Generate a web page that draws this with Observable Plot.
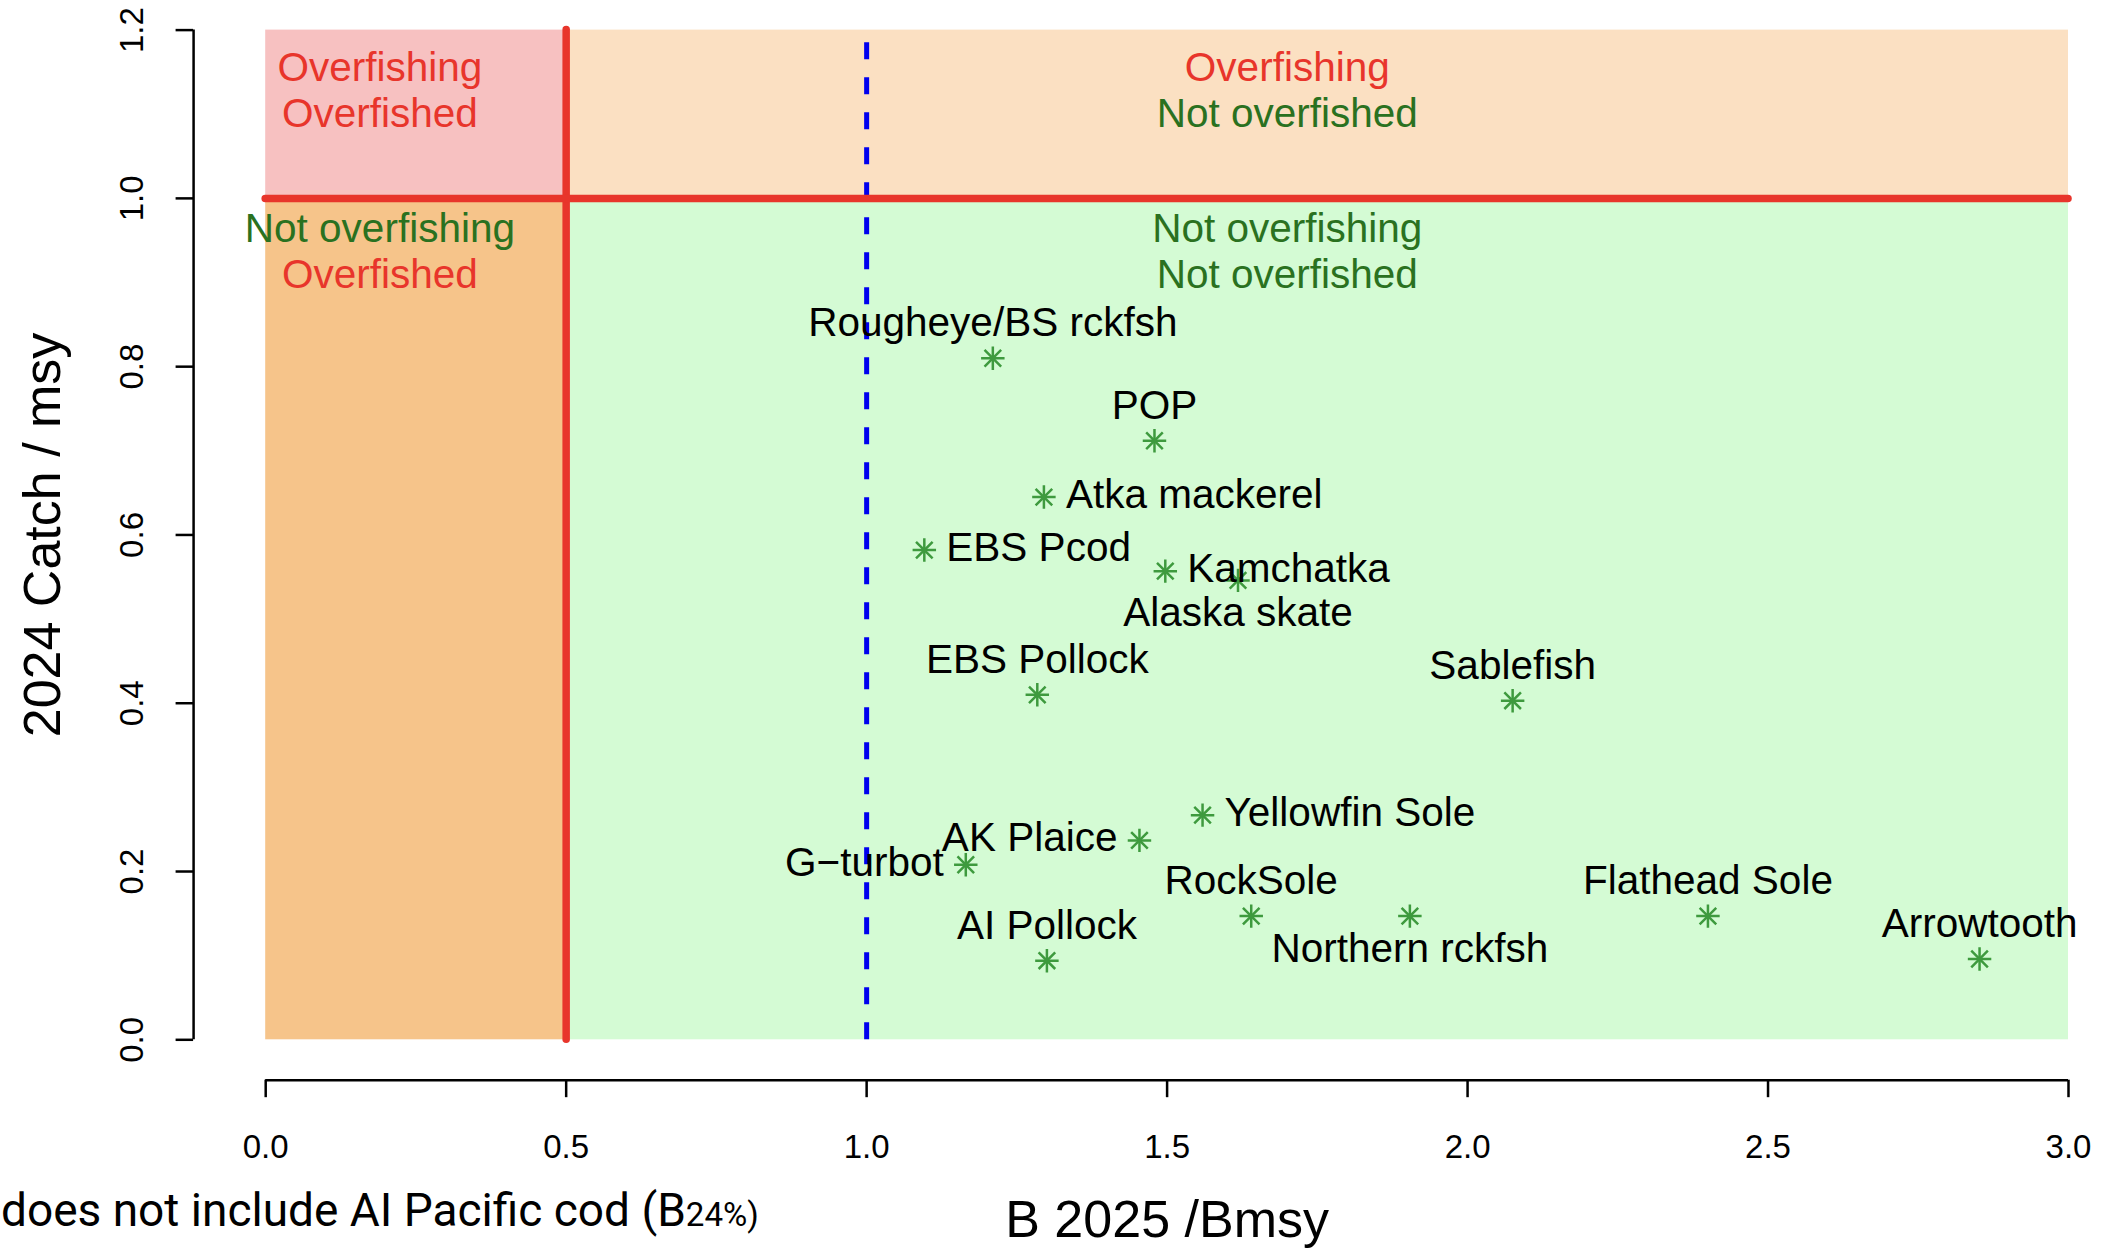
<!DOCTYPE html>
<html>
<head>
<meta charset="utf-8">
<script src="https://cdn.jsdelivr.net/npm/d3@7"></script>
<script src="https://cdn.jsdelivr.net/npm/@observablehq/plot@0.6"></script>
<style>
  html, body { margin: 0; padding: 0; background: #fff; }
  #wrap { position: relative; width: 2111px; height: 1251px; overflow: hidden; }
  #note { position: absolute; left: 1px; top: 1187px; font-family: Roboto, "Liberation Sans", Arial, sans-serif;
          font-size: 46px; line-height: 46px; white-space: nowrap; color: #000; }
  #note span { font-size: 0.72em; }
</style>
</head>
<body>
<div id="wrap">
  <div id="chart"></div>
  <div id="note">does not include AI Pacific cod (B<span>24%)</span></div>
</div>
<script>
// ---------------- data ----------------
const species = ["Rougheye/BS rckfsh", "POP", "Atka mackerel", "EBS Pcod", "Kamchatka", "Alaska skate",
  "EBS Pollock", "Sablefish", "Yellowfin Sole", "AK Plaice", "G\u2212turbot", "RockSole",
  "Northern rckfsh", "AI Pollock", "Flathead Sole", "Arrowtooth"];
const bRatio = [1.210, 1.479, 1.295, 1.096, 1.497, 1.618, 1.284, 2.075, 1.559, 1.454, 1.165, 1.640,
  1.904, 1.300, 2.400, 2.852];
const catchRatio = [0.810, 0.712, 0.645, 0.582, 0.557, 0.546, 0.410, 0.403, 0.267, 0.237, 0.208, 0.147,
  0.147, 0.094, 0.147, 0.096];
const labelPos = ["top", "top", "right", "right", "right", "bottom", "top", "top", "right", "left", "left",
  "top", "bottom", "top", "top", "top"];

const xTicks = [0.0, 0.5, 1.0, 1.5, 2.0, 2.5, 3.0];
const yTicks = [0.0, 0.2, 0.4, 0.6, 0.8, 1.0, 1.2];
const xTickLabels = ["0.0", "0.5", "1.0", "1.5", "2.0", "2.5", "3.0"];
const yTickLabels = ["0.0", "0.2", "0.4", "0.6", "0.8", "1.0", "1.2"];

const bLimit = 0.5;      // overfished threshold
const bTarget = 1.0;     // Bmsy reference (dashed)
const catchLimit = 1.0;  // overfishing threshold
const xMax = 3.0, yMax = 1.2;

const quadName = ["overfishingOverfished", "overfishingNot", "notOverfished", "notNot"];
const quadB1 = [0, bLimit, 0, bLimit];
const quadB2 = [bLimit, xMax, bLimit, xMax];
const quadC1 = [catchLimit, catchLimit, 0, 0];
const quadC2 = [yMax, yMax, catchLimit, catchLimit];

const regionText = ["Overfishing", "Overfished", "Overfishing", "Not overfished",
  "Not overfishing", "Overfished", "Not overfishing", "Not overfished"];
const regionB = [0.19, 0.19, 1.70, 1.70, 0.19, 0.19, 1.70, 1.70];
const regionC = [1.155, 1.100, 1.155, 1.100, 0.963, 0.909, 0.963, 0.909];
const regionKind = ["bad", "bad", "bad", "good", "good", "bad", "good", "good"];

const xTitle = "B 2025 /Bmsy";
const yTitle = "2024 Catch / msy";

// ---------------- styles ----------------
const QUAD_FILL = {
  overfishingOverfished: "#F7C1C1",
  overfishingNot: "#FBE0C2",
  notOverfished: "#F6C48A",
  notNot: "#D4FBD4"
};
const RED = "#E8352B", GREEN_TXT = "#2A7120", PT = "#3E9A3E";
const X0PX = 265.2, X3PX = 2068, YTOPPX = 29.6, Y0PX = 1039.3;
const pxX = (X3PX - X0PX) / xMax, pxY = (Y0PX - YTOPPX) / yMax;
const axX = -0.04 * xMax, axY = -0.04 * yMax;   // R-style offset axes
const tickLen = 17.5;

const pts = species.map((s, i) => ({species: s, b: bRatio[i], c: catchRatio[i], pos: labelPos[i]}));
const quads = quadName.map((q, i) => ({q, x1: quadB1[i], x2: quadB2[i], y1: quadC1[i], y2: quadC2[i]}));
const regions = regionText.map((t, i) => ({t, b: regionB[i], c: regionC[i], k: regionKind[i]}));
const xT = xTicks.map((v, i) => ({v, l: xTickLabels[i]}));
const yT = yTicks.map((v, i) => ({v, l: yTickLabels[i]}));

const OFF = {
  top:    {dx: 0,   dy: -35, textAnchor: "middle"},
  bottom: {dx: 0,   dy: 33,  textAnchor: "middle"},
  right:  {dx: 22,  dy: -2,  textAnchor: "start"},
  left:   {dx: -22, dy: -2,  textAnchor: "end"}
};
const labelMarks = Object.keys(OFF).map(p => Plot.text(pts.filter(d => d.pos === p), {
  x: "b", y: "c", text: "species", fill: "#000", fontSize: 40.5, ...OFF[p]
}));

const chart = Plot.plot({
  width: 2111, height: 1251,
  marginTop: 0, marginRight: 0, marginBottom: 0, marginLeft: 0,
  x: {domain: [0, xMax], range: [X0PX, X3PX]},
  y: {domain: [0, yMax], range: [Y0PX, YTOPPX]},
  axis: null,
  style: {fontFamily: "'Liberation Sans', Arial, Helvetica, sans-serif", background: "#fff", overflow: "visible"},
  marks: [
    Plot.rect(quads, {x1: "x1", x2: "x2", y1: "y1", y2: "y2", fill: d => QUAD_FILL[d.q]}),
    Plot.ruleX([bTarget], {y1: 0, y2: yMax, stroke: "#0000EE", strokeWidth: 5, strokeDasharray: "17,18"}),
    Plot.ruleX([bLimit], {y1: 0, y2: yMax, stroke: RED, strokeWidth: 7.5, strokeLinecap: "round"}),
    Plot.ruleY([catchLimit], {x1: 0, x2: xMax, stroke: RED, strokeWidth: 7.5, strokeLinecap: "round"}),
    Plot.text(regions, {x: "b", y: "c", text: "t", fontSize: 40.5, fill: d => d.k === "bad" ? RED : GREEN_TXT}),
    Plot.dot(pts, {x: "b", y: "c", symbol: "plus", r: 7.6, stroke: PT, strokeWidth: 2.5, fill: "none"}),
    Plot.dot(pts, {x: "b", y: "c", symbol: "times", r: 7.6, stroke: PT, strokeWidth: 2.5, fill: "none"}),
    ...labelMarks,
    // y axis
    Plot.ruleX([axX], {y1: 0, y2: yMax, stroke: "#000", strokeWidth: 2.5}),
    Plot.ruleY(yT, {y: "v", x1: axX, x2: axX - tickLen / pxX, stroke: "#000", strokeWidth: 2.5}),
    Plot.text(yT, {y: "v", x: axX, dx: -61, text: "l", rotate: -90, fontSize: 33, fill: "#000"}),
    // x axis
    Plot.ruleY([axY], {x1: 0, x2: xMax, stroke: "#000", strokeWidth: 2.5}),
    Plot.ruleX(xT, {x: "v", y1: axY, y2: axY - tickLen / pxY, stroke: "#000", strokeWidth: 2.5}),
    Plot.text(xT, {x: "v", y: axY, dy: 67, text: "l", fontSize: 33, fill: "#000"}),
    // titles
    Plot.text([xTitle], {x: xMax / 2, y: axY, dy: 140, text: d => d, fontSize: 52, fill: "#000"}),
    Plot.text([yTitle], {x: axX, y: yMax / 2, dx: -150, text: d => d, rotate: -90, fontSize: 52, fill: "#000"})
  ]
});
document.getElementById("chart").appendChild(chart);
</script>
</body>
</html>
